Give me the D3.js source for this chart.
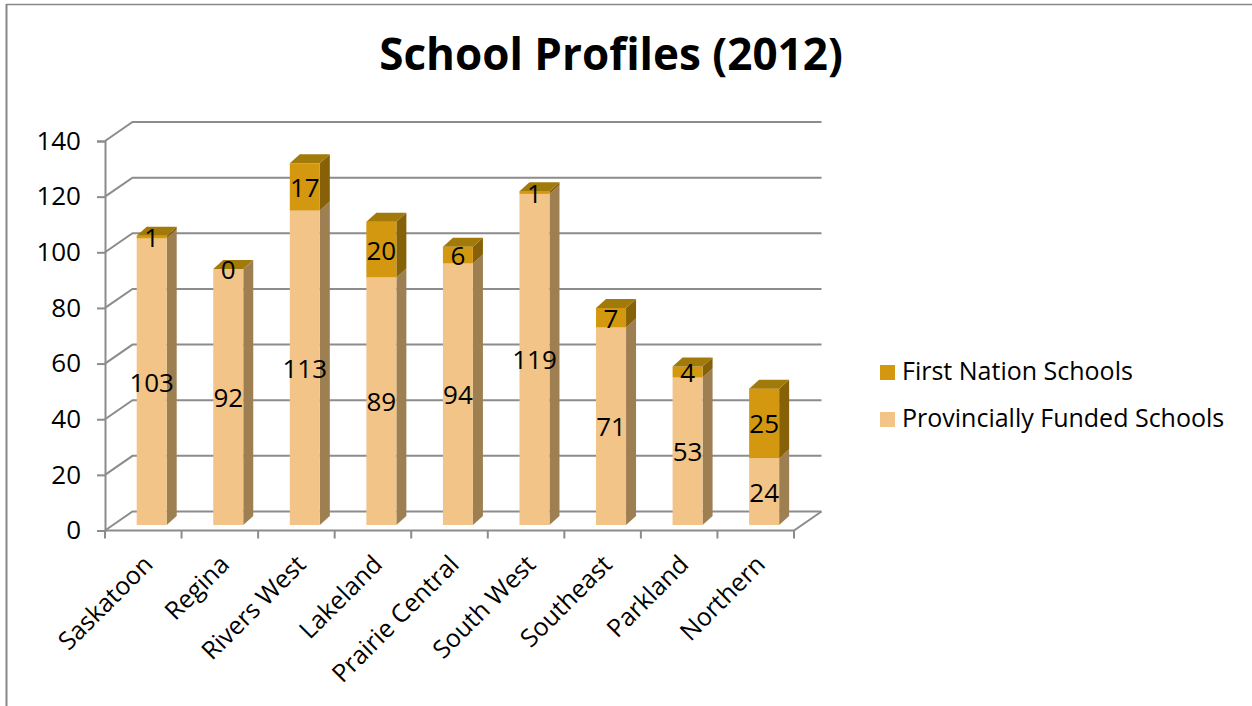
<!DOCTYPE html>
<html>
<head>
<meta charset="utf-8">
<script src="https://cdn.jsdelivr.net/npm/d3@7"></script>
<style>
  html, body { margin: 0; padding: 0; background: #fff; }
  svg { display: block; font-family: "Open Sans", "Noto Sans", sans-serif; }
</style>
</head>
<body>
<svg id="chart" width="1252" height="706"></svg>
<script>
// School counts by region, 2012
const categories = ["Saskatoon", "Regina", "Rivers West", "Lakeland", "Prairie Central",
                    "South West", "Southeast", "Parkland", "Northern"];
const provincial = [103, 92, 113, 89, 94, 119, 71, 53, 24];
const firstNation = [1, 0, 17, 20, 6, 1, 7, 4, 25];
const seriesNames = ["Provincially Funded Schools", "First Nation Schools"];
const yTicks = [0, 20, 40, 60, 80, 100, 120, 140];

const svg = d3.select("#chart");
const W = 1252, H = 706;

// 3-D look: floor depth offset and column depth offset
const floorDX = 27.5, floorDY = -19;
const barLift = 5.5;          // column front face sits slightly behind the front edge
const barDX = 10, barDY = -9; // column depth

const x = d3.scaleBand().domain(categories).range([105, 794]).paddingInner(0).paddingOuter(0);
const y = d3.scaleLinear().domain([0, 140]).range([530.5, 141]);

const gridColor = "#8c8c8c";

// outer frame
svg.append("line").attr("x1", 6.5).attr("x2", 6.5).attr("y1", 4).attr("y2", H)
  .attr("stroke", "#888").attr("stroke-width", 2);
svg.append("line").attr("x1", 6).attr("x2", W).attr("y1", 4.5).attr("y2", 4.5)
  .attr("stroke", "#888").attr("stroke-width", 1.5);

// title
svg.append("text").attr("x", 611).attr("y", 70).attr("text-anchor", "middle")
  .attr("font-weight", "bold").attr("font-size", 44).attr("fill", "#000")
  .text("School Profiles (2012)");

// gridlines: side wall diagonal + back wall horizontal
const grid = svg.append("g");
yTicks.forEach(v => {
  const yf = y(v);
  grid.append("polyline")
    .attr("points", [[x.range()[0], yf], [x.range()[0] + floorDX, yf + floorDY], [x.range()[1] + floorDX, yf + floorDY]].join(" "))
    .attr("fill", "none").attr("stroke", gridColor).attr("stroke-width", 2);
});

// floor front edge and right edge
grid.append("polyline")
  .attr("points", [[x.range()[0], y(0)], [x.range()[1], y(0)], [x.range()[1] + floorDX, y(0) + floorDY]].join(" "))
  .attr("fill", "none").attr("stroke", gridColor).attr("stroke-width", 2);

// y axis
const yAxis = d3.axisLeft(y).tickValues(yTicks).tickSize(8).tickPadding(16).tickFormat(d3.format("d"));
const gy = svg.append("g").attr("transform", `translate(${x.range()[0]},0)`).call(yAxis);
gy.select(".domain").attr("stroke", gridColor).attr("stroke-width", 2);
gy.selectAll(".tick line").attr("stroke", gridColor).attr("stroke-width", 2);
gy.selectAll(".tick text").attr("font-size", 26).attr("fill", "#000")
  .attr("font-family", "\"Open Sans\", sans-serif");

// x axis ticks at band edges
const gx = svg.append("g");
const edges = categories.map(c => x(c)).concat([x.range()[1]]);
edges.forEach(e => {
  gx.append("line").attr("x1", e).attr("x2", e).attr("y1", y(0)).attr("y2", y(0) + 8)
    .attr("stroke", gridColor).attr("stroke-width", 2);
});

// category labels, rotated
gx.selectAll("text.cat").data(categories).enter().append("text")
  .attr("class", "cat")
  .attr("transform", d => `translate(${x(d) + x.bandwidth() / 2 + 11},566) rotate(-45)`)
  .attr("text-anchor", "end").attr("font-size", 25).attr("fill", "#000")
  .text(d => d);

// stacked columns
const rows = categories.map((c, i) => ({ cat: c, prov: provincial[i], fn: firstNation[i] }));
const stack = d3.stack().keys(["prov", "fn"]);
const layers = stack(rows);

const palette = {
  prov: { front: "#F2C487", side: "#9E7F52", top: "#B8925A" },
  fn:   { front: "#D3980F", side: "#866107", top: "#A27A0A" }
};

const faceW = x.bandwidth() * 0.392;
const faceOff = x.bandwidth() * 0.414;

const bars = svg.append("g");
rows.forEach((r, i) => {
  const left = x(r.cat) + faceOff;
  const right = left + faceW;
  layers.forEach((layer, li) => {
    const seg = layer[i];
    const key = layer.key;
    const yb = y(seg[0]) - barLift;
    const yt = y(seg[1]) - barLift;
    const col = palette[key];
    // side face
    bars.append("polygon")
      .attr("points", [[right, yb], [right + barDX, yb + barDY], [right + barDX, yt + barDY], [right, yt]].join(" "))
      .attr("fill", col.side);
    // front face
    bars.append("rect").attr("x", left).attr("y", yt).attr("width", faceW).attr("height", Math.max(0, yb - yt))
      .attr("fill", col.front);
    // top face on the uppermost segment
    if (li === layers.length - 1) {
      bars.append("polygon")
        .attr("points", [[left, yt], [left + barDX, yt + barDY], [right + barDX, yt + barDY], [right, yt]].join(" "))
        .attr("fill", col.top);
    }
  });
});

// value labels on each segment
const labels = svg.append("g");
rows.forEach((r, i) => {
  const cx = x(r.cat) + faceOff + faceW / 2;
  layers.forEach(layer => {
    const seg = layer[i];
    const v = seg[1] - seg[0];
    const cy = (y(seg[0]) + y(seg[1])) / 2 - barLift;
    labels.append("text").attr("x", cx).attr("y", cy)
      .attr("text-anchor", "middle").attr("dominant-baseline", "central")
      .attr("font-size", 26).attr("fill", "#000").text(v);
  });
});

// legend
const legend = svg.append("g");
const legendItems = [
  { name: seriesNames[1], color: palette.fn.front },
  { name: seriesNames[0], color: palette.prov.front }
];
legendItems.forEach((d, i) => {
  const ly = 372 + i * 47;
  legend.append("rect").attr("x", 880).attr("y", ly - 7).attr("width", 15).attr("height", 15).attr("fill", d.color);
  legend.append("text").attr("x", 902).attr("y", ly + 8).attr("font-size", 25).attr("fill", "#000").text(d.name);
});
</script>
</body>
</html>
